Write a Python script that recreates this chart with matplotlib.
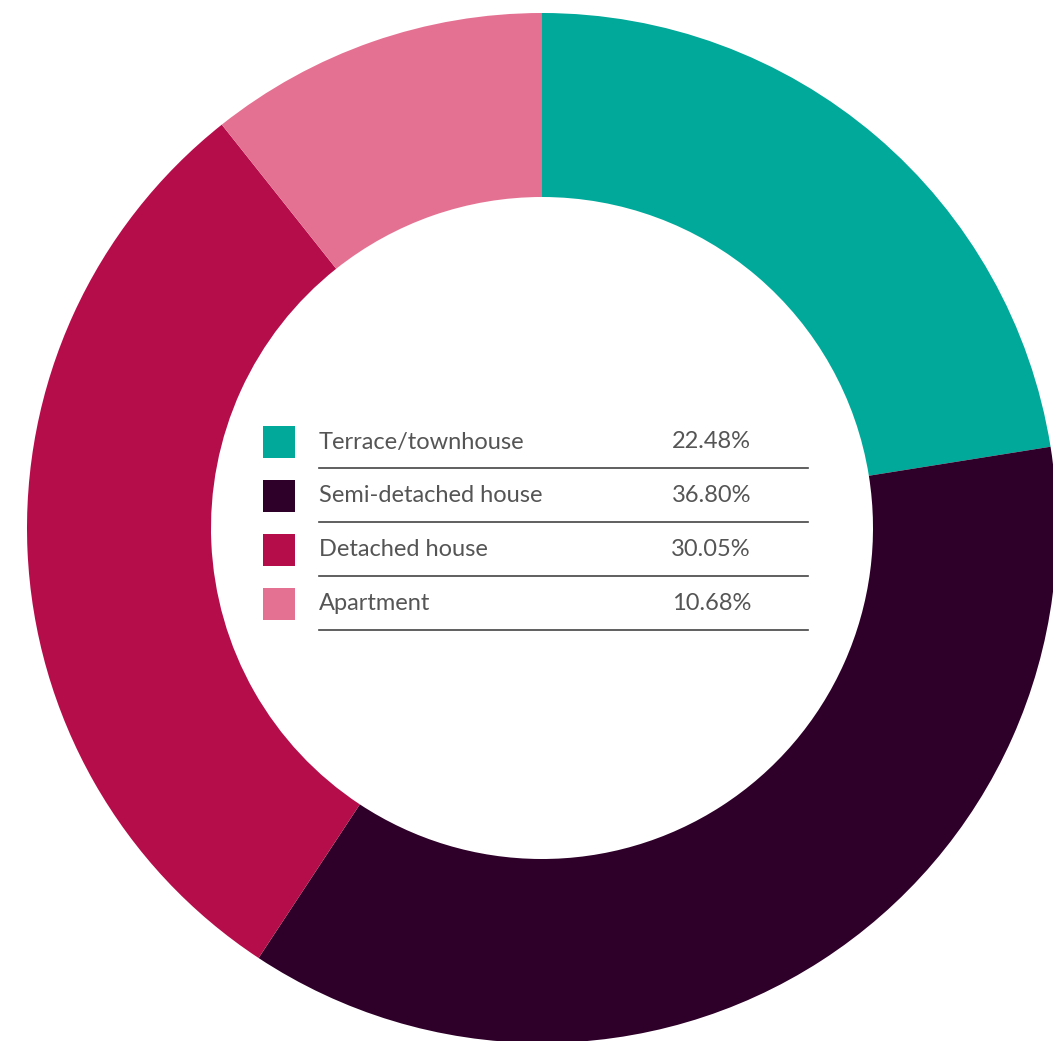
import matplotlib.pyplot as plt
from matplotlib.patches import Rectangle

labels = ["Terrace/townhouse", "Semi-detached house", "Detached house", "Apartment"]
values = [22.48, 36.80, 30.05, 10.68]
pct_labels = ["22.48%", "36.80%", "30.05%", "10.68%"]
colors = ["#00A99A", "#2E0029", "#B50D4A", "#E57192"]

W, H = 1053, 1041
fig = plt.figure(figsize=(W / 100, H / 100), dpi=100)
ax = fig.add_axes([0, 0, 1, 1])

# donut, partly cropped by the figure edge
cx, cy = 542, H - 528
R, r = 515, 331
ax.pie(values, colors=colors, startangle=90, counterclock=False,
       center=(cx, cy), radius=R, frame=True,
       wedgeprops=dict(width=R - r, linewidth=0))
ax.set_xlim(0, W)
ax.set_ylim(0, H)
ax.set_aspect("equal")
ax.axis("off")

# legend inside the hole
row0 = H - 442
step = 54
for i, (lab, pct, col) in enumerate(zip(labels, pct_labels, colors)):
    y = row0 - i * step
    ax.add_patch(Rectangle((263, y - 16), 32, 32, color=col, lw=0))
    ax.text(319, y, lab, fontsize=17, family="Lato",
            color="#555555", va="center", ha="left")
    ax.text(751, y, pct, fontsize=17, family="Lato",
            color="#555555", va="center", ha="right")
    ax.plot([319, 808], [y - 26, y - 26], color="#444444", lw=1.2)

fig.savefig("out.png", dpi=100)
